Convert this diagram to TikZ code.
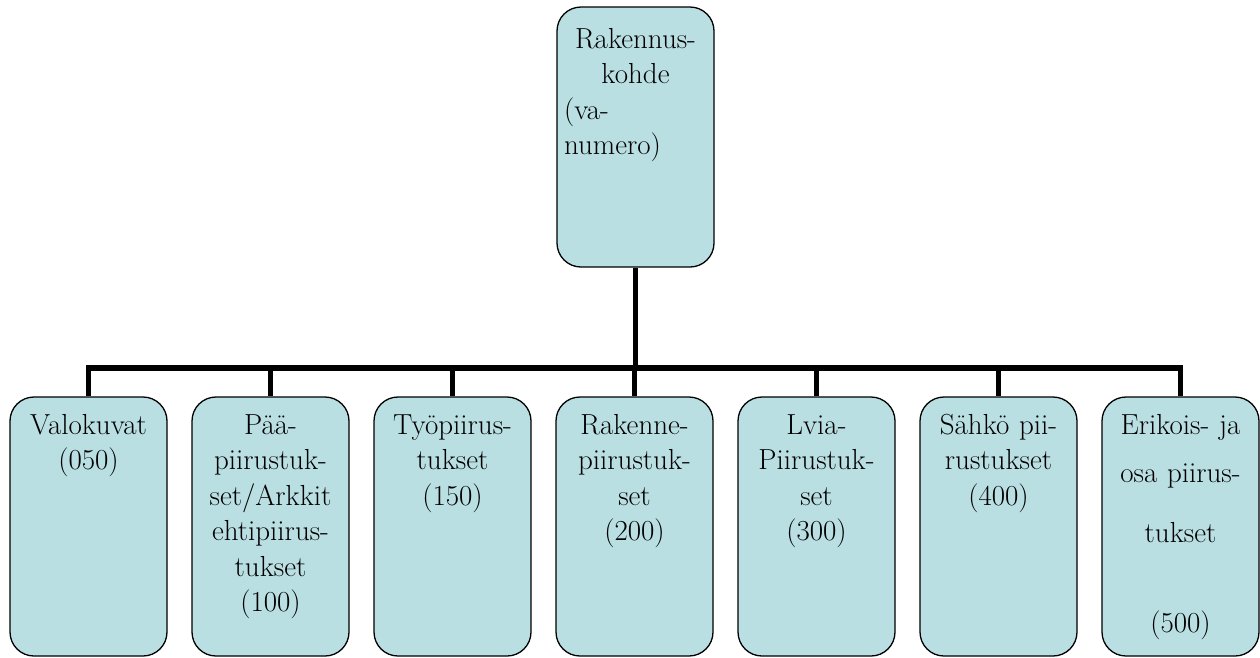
\documentclass[tikz,border=0pt]{standalone}
\definecolor{boxfill}{RGB}{186,223,227}

\begin{document}
\begin{tikzpicture}[x=1pt,y=-1pt,
  box/.style={draw,line width=1.3pt,rounded corners=24pt,fill=boxfill,
    minimum width=157pt,minimum height=259pt,inner sep=0pt},
  lbl/.style={anchor=base,text width=143pt,align=center,inner sep=0pt,
    font=\fontsize{29}{35.5}\selectfont},
  link/.style={line width=5.5pt}]
  \useasboundingbox (0,0) rectangle (1260,657);
  % root
  \node[box,minimum height=260pt] (kohde) at (635.5,137) {};
  \node[lbl,align=left] (kohde-t) at ([yshift=-42pt]kohde.north)
    {{\centering Rakennus-\par kohde\par}(va-\newline numero)};
  % drawing groups
  \node[box] (valo) at (88.5,526.5) {};
  \node[box] (paa) at (270.5,526.5) {};
  \node[box] (tyo) at (452.5,526.5) {};
  \node[box] (rak) at (634.5,526.5) {};
  \node[box] (lvia) at (816.5,526.5) {};
  \node[box] (sahko) at (998.5,526.5) {};
  \node[box] (erik) at (1180.5,526.5) {};
  \node[lbl] (valo-t) at ([yshift=-38pt]valo.north) {Valokuvat\\(050)};
  \node[lbl] (paa-t) at ([yshift=-38pt]paa.north)
    {Pää-\\piirustuk-\\set/Arkkit\\ehtipiirus-\\tukset\\(100)};
  \node[lbl] (tyo-t) at ([yshift=-38pt]tyo.north) {Työpiirus-\\tukset\\(150)};
  \node[lbl] (rak-t) at ([yshift=-38pt]rak.north) {Rakenne-\\piirustuk-\\set\\(200)};
  \node[lbl] (lvia-t) at ([yshift=-38pt]lvia.north) {Lvia-\\Piirustuk-\\set\\(300)};
  \node[lbl] (sahko-t) at ([yshift=-38pt]sahko.north) {Sähkö pii-\\rustukset\\(400)};
  \node[lbl] (erik-t) at ([yshift=-38pt]erik.north)
    {Erikois- ja\\[13pt]osa piirus-\\[24pt]tukset\\[55pt](500)};
  % connectors
  \coordinate (bar) at (0,368);
  \draw[link] (kohde.south) -- (kohde.south |- bar);
  \foreach \c in {valo,paa,tyo,rak,lvia,sahko,erik}
    \draw[link] (kohde.south |- bar) -| (\c.north);
\end{tikzpicture}
\end{document}
